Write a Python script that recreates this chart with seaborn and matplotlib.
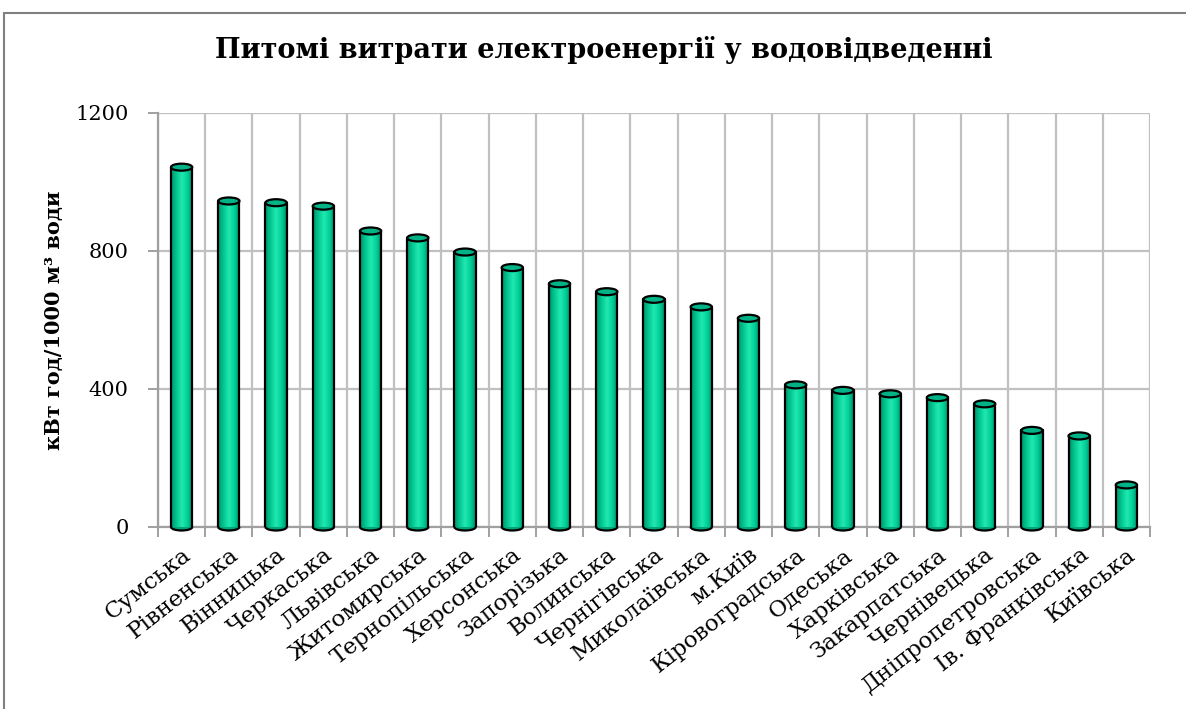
import numpy as np
import pandas as pd
import matplotlib.pyplot as plt
import seaborn as sns
from matplotlib.patches import Ellipse, Arc
from matplotlib.lines import Line2D
from matplotlib.colors import LinearSegmentedColormap

regions = ['Сумська', 'Рівненська', 'Вінницька', 'Черкаська', 'Львівська', 'Житомирська',
           'Тернопільська', 'Херсонська', 'Запорізька', 'Волинська', 'Чернігівська',
           'Миколаївська', 'м.Київ', 'Кіровоградська', 'Одеська', 'Харківська',
           'Закарпатська', 'Чернівецька', 'Дніпропетровська', 'Ів. Франківська', 'Київська']
values = [1043, 945, 940, 930, 858, 838, 797, 752, 705, 682, 660, 638, 605,
          412, 396, 386, 375, 357, 280, 264, 122]

df = pd.DataFrame({'region': regions, 'value': values})

sns.set_theme(style='white')
plt.rcParams['font.family'] = ['DejaVu Serif']
plt.rcParams['text.color'] = 'black'
plt.rcParams['axes.labelcolor'] = 'black'
plt.rcParams['xtick.color'] = 'black'
plt.rcParams['ytick.color'] = 'black'

fig = plt.figure(figsize=(11.86, 7.09), dpi=100)
W, H = 1186, 709
ax = fig.add_axes([158 / W, 1 - 527 / H, (1150 - 158) / W, (527 - 113) / H])

sns.barplot(data=df, x='region', y='value', color='#00D29A', width=0.45,
            linewidth=0, ax=ax, zorder=3)
ax.set_xlim(-0.5, len(regions) - 0.5)
ax.set_ylim(0, 1200)

# cylinder shading
cyl = LinearSegmentedColormap.from_list('cyl', ['#00936B', '#00C890', '#22E8B0', '#00D29A', '#008C66'])
grad = np.linspace(0, 1, 64).reshape(1, -1)
ell_h = 1200 / 414 * 7
for p in list(ax.patches):
    x0, w, h = p.get_x(), p.get_width(), p.get_height()
    im = ax.imshow(grad, cmap=cyl, extent=[x0, x0 + w, 0, h], aspect='auto', zorder=3.5)
    im.set_clip_path(p)
    cx = x0 + w / 2
    ax.add_patch(Ellipse((cx, 0), w, ell_h, facecolor='#00A57A', edgecolor='none', zorder=3.4, clip_on=False))
    ax.add_patch(Arc((cx, 0), w, ell_h, theta1=180, theta2=360, color='black', lw=1.6, zorder=4, clip_on=False))
    ax.add_line(Line2D([x0, x0], [0, h], color='black', lw=1.6, zorder=4))
    ax.add_line(Line2D([x0 + w, x0 + w], [0, h], color='black', lw=1.6, zorder=4))
    ax.add_patch(Ellipse((cx, h), w, ell_h, facecolor='#00B386', edgecolor='black', lw=1.6, zorder=5))

# grid & axes
ax.set_yticks([0, 400, 800, 1200])
ax.set_xticks(np.arange(-0.5, len(regions), 1), minor=True)
ax.grid(True, axis='y', which='major', color='#C0C0C0', lw=1.6, zorder=0)
ax.grid(True, axis='x', which='minor', color='#C0C0C0', lw=1.6, zorder=0)
for s in ['top', 'right']:
    ax.spines[s].set_visible(False)
for s in ['left', 'bottom']:
    ax.spines[s].set_color('#A0A0A0')
    ax.spines[s].set_linewidth(1.6)
ax.tick_params(axis='y', which='major', length=7, width=1.4, color='#A0A0A0', labelcolor='black',
               labelsize=15, pad=14, left=True)
ax.tick_params(axis='x', which='major', length=0, labelsize=16.5, pad=12, labelcolor='black')
ax.tick_params(axis='x', which='minor', length=7, width=1.4, color='#A0A0A0', bottom=True)
ax.set_xticks(range(len(regions)))
ax.set_xticklabels(regions, rotation=38, ha='right', rotation_mode='anchor')
ax.set_xlabel('')
ax.set_ylabel('кВт год/1000 м³ води', fontsize=15, fontweight='bold', labelpad=8, color='black')

fig.text(604 / W, 1 - 50 / H, 'Питомі витрати електроенергії у водовідведенні',
         ha='center', va='center', fontsize=19.5, fontweight='bold', color='black')

# chart area border
fig.add_artist(Line2D([4 / W, 1], [1 - 13 / H, 1 - 13 / H], color='#808080', lw=1.5))
fig.add_artist(Line2D([4 / W, 4 / W], [0, 1 - 13 / H], color='#808080', lw=1.5))

fig.savefig('out.png', dpi=100)
